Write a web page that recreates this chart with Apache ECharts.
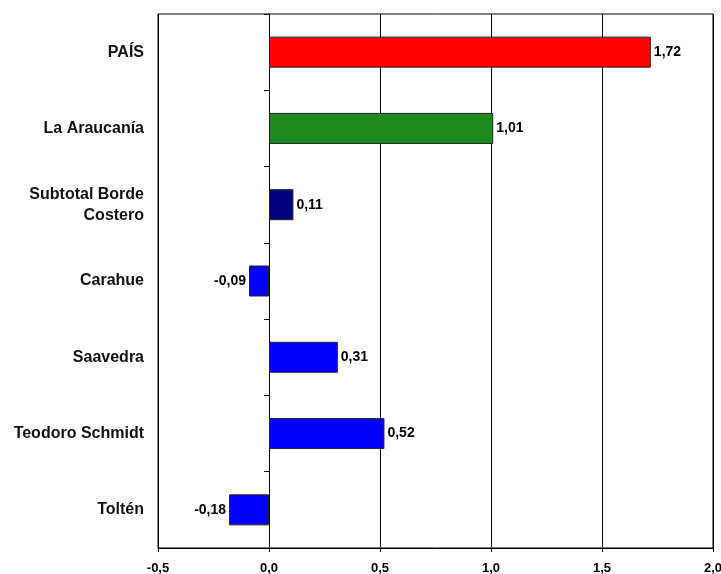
<!DOCTYPE html>
<html><head><meta charset="utf-8">
<script src="https://cdn.jsdelivr.net/npm/echarts@6/dist/echarts.min.js"></script>
<style>html,body{margin:0;padding:0;background:#fff}#c{width:721px;height:574px}</style>
</head><body><div id="c"></div>
<script>
const categories = ['PAÍS', 'La Araucanía', 'Subtotal Borde\nCostero', 'Carahue', 'Saavedra', 'Teodoro Schmidt', 'Toltén'];
const values = [1.72, 1.01, 0.11, -0.09, 0.31, 0.52, -0.18];
const barColors = ['#ff0000', '#1f8a1f', '#000080', '#0000ff', '#0000ff', '#0000ff', '#0000ff'];
const xTicks = [-0.5, 0.0, 0.5, 1.0, 1.5, 2.0];

const fmt = v => v.toFixed(2).replace('.', ',');
const chart = echarts.init(document.getElementById('c'));
chart.setOption({
  animation: false,
  grid: {left: 158, right: 8, top: 14, bottom: 26, containLabel: false, outerBoundsMode: 'none',
    show: true, borderColor: '#000', borderWidth: 1},
  xAxis: {
    type: 'value', min: xTicks[0], max: xTicks[xTicks.length - 1], interval: 0.5,
    axisLine: {show: true, lineStyle: {color: '#000'}},
    axisTick: {show: true, length: 4, lineStyle: {color: '#000'}},
    splitLine: {show: true, lineStyle: {color: '#000', width: 1}},
    axisLabel: {color: '#000', fontFamily: 'Liberation Sans', fontWeight: 'bold', fontSize: 13, margin: 14,
      formatter: v => v.toFixed(1).replace('.', ',')}
  },
  yAxis: [{
    type: 'category', data: categories, inverse: true,
    axisLine: {show: false, onZero: false}, axisTick: {show: false},
    axisLabel: {color: '#111', fontFamily: 'Liberation Sans', fontWeight: 'bold', fontSize: 16, margin: 14, lineHeight: 21, align: 'right'}
  }, {
    type: 'category', data: categories, inverse: true, position: 'left',
    axisLine: {show: true, onZero: true, lineStyle: {color: '#000'}},
    axisTick: {show: true, length: 5, lineStyle: {color: '#000'}},
    axisLabel: {show: false}
  }],
  series: [{
    type: 'bar', yAxisIndex: 0, barWidth: 31,
    data: values.map((v, i) => ({
      value: v,
      itemStyle: {color: barColors[i], borderColor: '#222', borderWidth: 1},
      label: {position: v < 0 ? 'left' : 'right'}
    })),
    label: {show: true, distance: 3, color: '#000', fontFamily: 'Liberation Sans', fontWeight: 'bold', fontSize: 14,
      formatter: p => fmt(p.value)}
  }]
});
</script></body></html>
